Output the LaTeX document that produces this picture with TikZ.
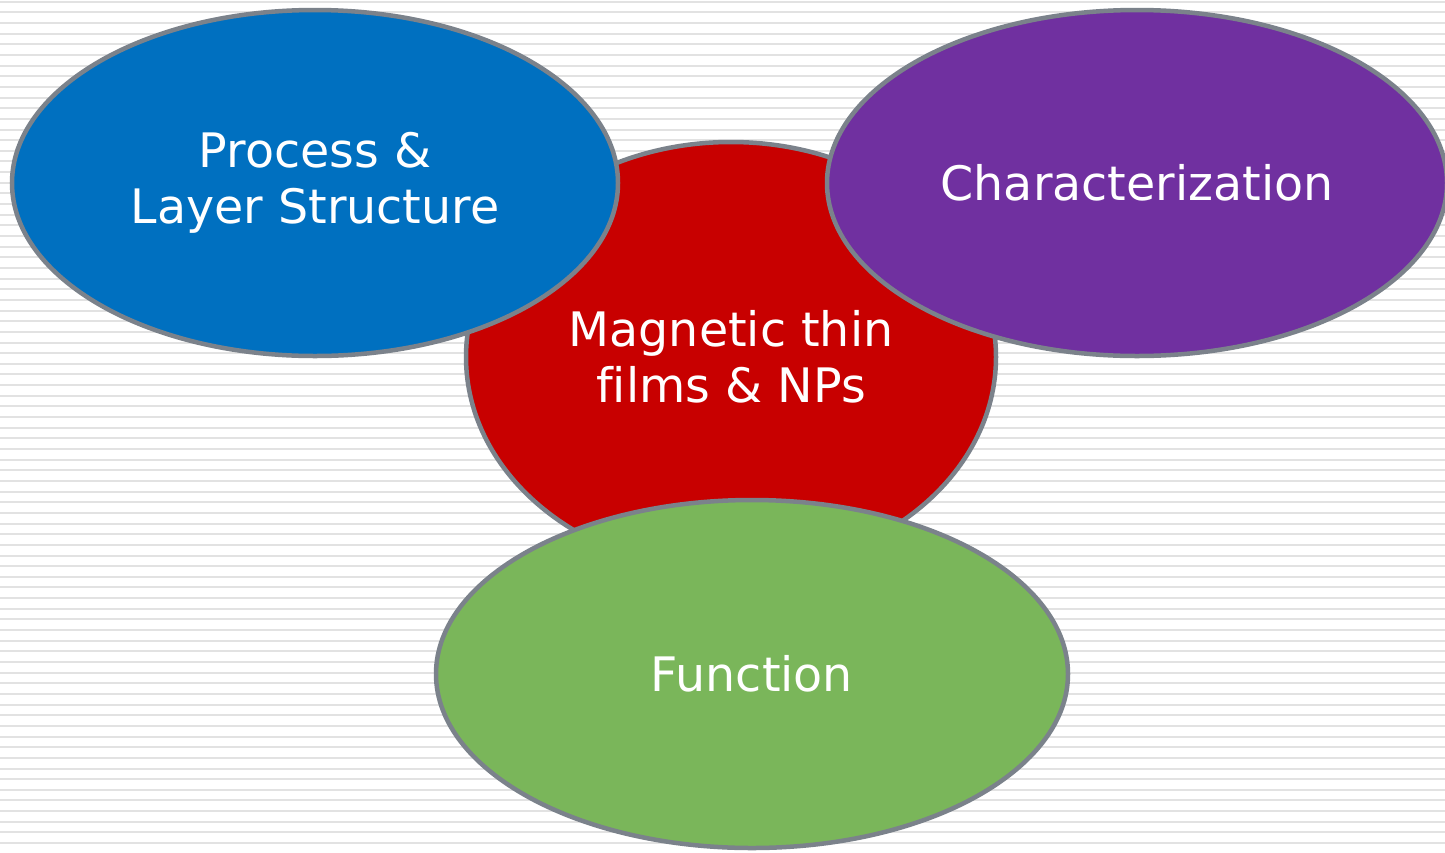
\documentclass[tikz,border=0pt]{standalone}
\usepackage{fontspec}
\setmainfont[Ligatures=CommonOff]{DejaVu Sans}
\usetikzlibrary{shapes.geometric}
\definecolor{cblue}{HTML}{0070C0}
\definecolor{cred}{HTML}{C80000}
\definecolor{cpurple}{HTML}{7030A0}
\definecolor{cgreen}{HTML}{7AB65A}
\definecolor{cedge}{HTML}{7B828B}
\definecolor{cstripe}{HTML}{E2E2E2}
\tikzset{
  ell/.style={ellipse, draw=cedge, line width=4.5pt, inner sep=0pt, text=white, align=center,
    font=\fontsize{47.5}{56}\selectfont},
  stripe/.style={cstripe, line width=2pt}
}
\begin{document}
\begin{tikzpicture}[x=1pt,y=-1pt]
\useasboundingbox (0,0) rectangle (1445,852);
\fill[white] (0,0) rectangle (1445,852);
\foreach \k in {0,...,80} {
  \draw[stripe] (0,{1.7+10.65*\k}) -- (1445,{1.7+10.65*\k});
}
\node[ell, fill=cred, minimum width=530pt, minimum height=430pt] (mag) at (731,357) {};
\node[ell, fill=cblue, minimum width=606pt, minimum height=346pt] (proc) at (315,183) {Process \&\\Layer Structure};
\node[ell, fill=cpurple, minimum width=620pt, minimum height=346pt] (char) at (1137,183) {Characterization};
\node[ell, fill=cgreen, minimum width=632pt, minimum height=348pt] (func) at (752,674) {Function};
\node[text=white, align=center, font=\fontsize{47.5}{56}\selectfont] (magtxt) at (731,357) {Magnetic thin\\films \& NPs};
\end{tikzpicture}
\end{document}
